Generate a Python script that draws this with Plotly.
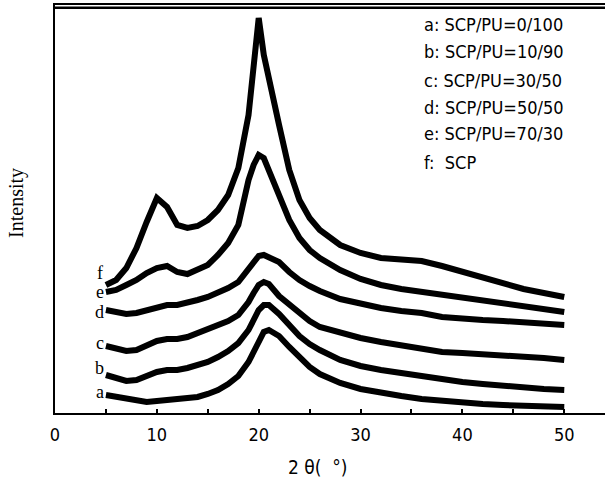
"""XRD patterns of SCP/PU blends."""
import plotly.graph_objects as go

# 2-theta grid (degrees)
two_theta = [5, 6, 7, 8, 9, 10, 11, 12, 13, 14, 15, 16, 17, 18, 19, 19.5, 20, 20.5,
             21, 22, 23, 24, 25, 26, 28, 30, 32, 34, 36, 38, 40, 42, 44, 46, 48, 50]

# intensities (arbitrary units, curves already offset)
curve_a = [18, 16, 14, 12, 11, 12, 13, 13, 14, 16, 19, 23, 29, 37, 51, 61, 73, 81,
           83, 77, 66, 55, 46, 39, 30, 24, 20, 17, 14, 12, 10, 9, 8, 7, 6, 6]
curve_b = [38, 35, 32, 33, 37, 41, 43, 43, 45, 48, 51, 56, 62, 70, 83, 93, 103, 108,
           108, 99, 88, 77, 69, 63, 53, 47, 43, 40, 36, 33, 31, 29, 27, 26, 24, 23]
curve_c = [67, 65, 62, 63, 68, 72, 74, 74, 76, 80, 83, 87, 92, 98, 111, 120, 128, 131,
           129, 117, 108, 99, 92, 86, 80, 75, 71, 68, 65, 61, 60, 59, 58, 57, 55, 53]
curve_d = [103, 101, 99, 100, 103, 106, 108, 108, 110, 113, 116, 120, 125, 131, 143, 151, 157, 158,
           156, 151, 141, 133, 127, 122, 114, 109, 105, 102, 100, 96, 94, 93, 92, 91, 90, 88]
curve_e = [121, 123, 128, 133, 140, 145, 147, 141, 139, 143, 148, 158, 170, 188, 233, 248, 258, 255,
           243, 216, 193, 175, 163, 155, 143, 134, 128, 124, 121, 118, 115, 112, 109, 106, 104, 101]
curve_f = [128, 133, 145, 165, 191, 215, 206, 188, 185, 187, 193, 203, 218, 245, 298, 343, 395, 358,
           333, 288, 243, 213, 195, 183, 168, 160, 155, 153, 152, 147, 141, 135, 129, 124, 120, 116]

curves = [curve_a, curve_b, curve_c, curve_d, curve_e, curve_f]
letters = ["a", "b", "c", "d", "e", "f"]
label_y = [21, 45, 70, 101, 121, 140]
legend_lines = ["a: SCP/PU=0/100", "b: SCP/PU=10/90", "c: SCP/PU=30/50",
                "d: SCP/PU=50/50", "e: SCP/PU=70/30", "f:  SCP"]

NARROW = "Liberation Sans Narrow, Arial Narrow, DejaVu Sans Condensed, sans-serif"
SERIF = "Liberation Serif, Times New Roman, serif"

fig = go.Figure()
for ys in curves:
    fig.add_trace(go.Scatter(x=two_theta, y=ys, mode="lines",
                             line=dict(color="black", width=6), showlegend=False))

annotations = []
for letter, ly in zip(letters, label_y):
    annotations.append(dict(x=4.4, y=ly, xref="x", yref="y", text=letter, showarrow=False,
                            xanchor="center", yanchor="middle",
                            font=dict(family=SERIF, size=18, color="black")))

legend_y = [0.951, 0.885, 0.816, 0.750, 0.686, 0.615]
for txt, yy in zip(legend_lines, legend_y):
    annotations.append(dict(x=0.667, y=yy, xref="paper", yref="paper", text=txt,
                            xanchor="left", yanchor="middle", showarrow=False,
                            font=dict(family=NARROW, size=18, color="black")))

annotations.append(dict(x=-0.069, y=0.515, xref="paper", yref="paper", text="Intensity",
                        textangle=-90, xanchor="center", yanchor="middle", showarrow=False,
                        font=dict(family=SERIF, size=20, color="black")))
annotations.append(dict(x=0.478, y=-0.132, xref="paper", yref="paper", text="2 θ(  °)",
                        xanchor="center", yanchor="middle", showarrow=False,
                        font=dict(family=NARROW, size=19, color="black")))

fig.update_layout(
    width=605, height=482,
    margin=dict(l=55, r=0, t=5, b=69),
    paper_bgcolor="white", plot_bgcolor="white",
    annotations=annotations,
)
# top frame line, drawn a little inside the plot area
fig.add_shape(type="line", xref="paper", yref="paper", x0=0, x1=1, y0=0.993, y1=0.993,
              line=dict(color="black", width=2.5), layer="above")
fig.update_xaxes(range=[0, 54], tickvals=[0, 10, 20, 30, 40, 50],
                 ticks="inside", ticklen=4, tickwidth=1.5, tickcolor="black",
                 minor=dict(dtick=5, tick0=0, ticks="inside", ticklen=4, tickcolor="black"),
                 showline=True, linecolor="black", linewidth=2, mirror=True,
                 showgrid=False, zeroline=False, ticklabelstandoff=4,
                 tickfont=dict(family=NARROW, size=18, color="black"))
fig.update_yaxes(range=[0, 408], showticklabels=False, ticks="",
                 showline=True, linecolor="black", linewidth=2,
                 showgrid=False, zeroline=False)

# drop the default page margin so the figure sits at the window corner
fig.write_html("out.html", config={"displayModeBar": False},
               post_script="document.body.style.margin='0';")
